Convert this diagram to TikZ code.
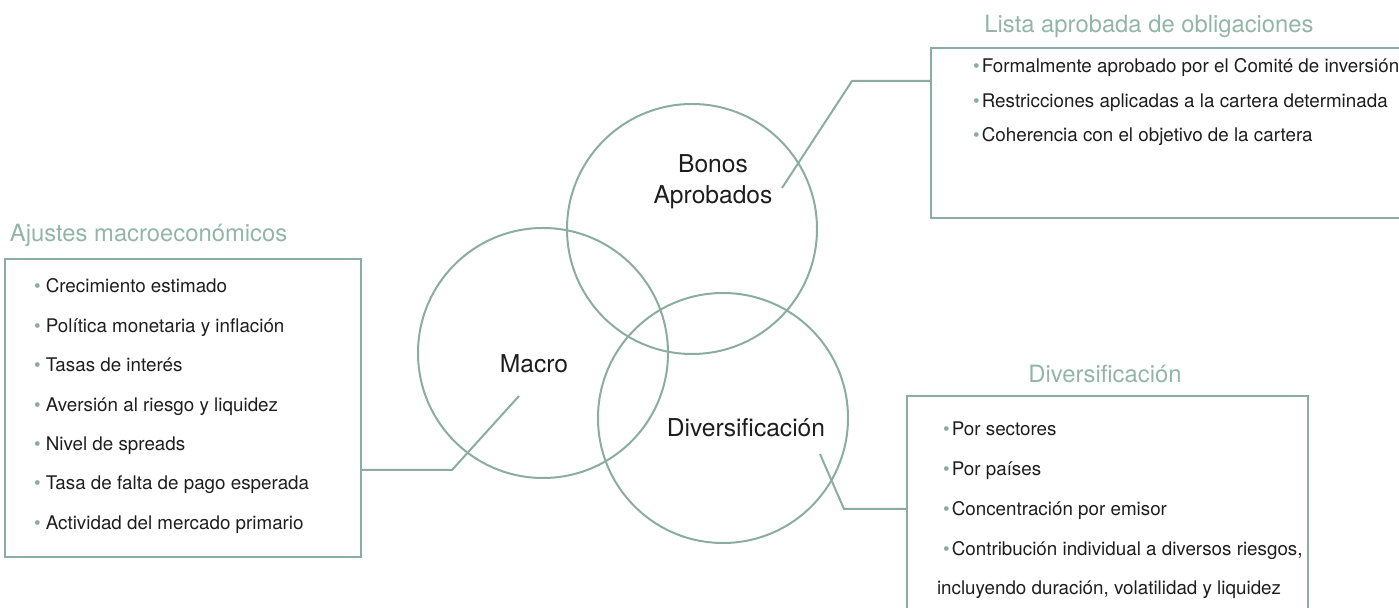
\documentclass[tikz,border=0pt]{standalone}
\usepackage{fontspec}
\setmainfont{TeX Gyre Heros}
\usepackage{xcolor}
\usepackage{tikz}
\usetikzlibrary{arrows}

\definecolor{vennline}{HTML}{8AADA0}
\definecolor{venntitle}{HTML}{93B5A8}
\definecolor{venntext}{HTML}{1E1E1E}
\newcommand{\vbul}[1][0.12em]{{\color{vennline}\textbullet}\hspace{#1}}

\begin{document}
\begin{tikzpicture}[x=0.5pt,y=-0.5pt,line width=1pt,draw=vennline]
  \tikzstyle{every node}=[inner sep=0pt,outer sep=0pt]
  \tikzstyle{venn}=[circle,draw=vennline,minimum size=125pt]
  \tikzstyle{vennlabel}=[font=\fontsize{12.3}{15.5}\selectfont,text=venntext,align=center,anchor=base]
  \tikzstyle{boxtitle}=[font=\fontsize{11.9}{14}\selectfont,text=venntitle]
  \tikzstyle{item}=[font=\fontsize{9.4}{11}\selectfont,text=venntext,anchor=base west]
  \tikzstyle{listbox}=[rectangle,draw=vennline,anchor=north west]

  \useasboundingbox (0,0) rectangle (1399,608);
  \clip (0,0) rectangle (1399,608);

  \node[venn] (bonos)  at (692,229) {};
  \node[venn] (macro)  at (543,353) {};
  \node[venn] (divers) at (723,418) {};

  \node[vennlabel] (bonoslabel)  at (713,204) {Bonos\\Aprobados};
  \node[vennlabel] (macrolabel)  at (534,373) {Macro};
  \node[vennlabel] (diverslabel) at (746,437) {Diversificación};

  \node[listbox,minimum width=178pt,minimum height=149pt]   (ajustesbox) at (5,259) {};
  \node[listbox,minimum width=244.5pt,minimum height=85pt]  (listabox)   at (931,48) {};
  \node[listbox,minimum width=200.5pt,minimum height=120pt] (diversbox)  at (907,396) {};

  \node[boxtitle,anchor=base west] (ajustestitle) at (10,242)   {Ajustes macroeconómicos};
  \node[boxtitle,anchor=base]      (listatitle)   at (1149,33)  {Lista aprobada de obligaciones};
  \node[boxtitle,anchor=base]      (diverstitle)  at (1105,383) {Diversificación};

  \foreach \txt [count=\i] in {Crecimiento estimado,Política monetaria y inflación,Tasas de interés,
      Aversión al riesgo y liquidez,Nivel de spreads,Tasa de falta de pago esperada,Actividad del mercado primario}
    \node[item] (ajuste\i) at (34,{293+39.4*(\i-1)}) {\vbul[0.28em]\txt};

  \foreach \txt [count=\i] in {Formalmente aprobado por el Comité de inversión,
      Restricciones aplicadas a la cartera determinada,Coherencia con el objetivo de la cartera}
    \node[item] (lista\i) at (973,{72.7+34.5*(\i-1)}) {\vbul\txt};

  \foreach \txt [count=\i] in {Por sectores,Por países,Concentración por emisor,
      {Contribución individual a diversos riesgos,}}
    \node[item] (divers\i) at (943,{436+39.7*(\i-1)}) {\vbul\txt};
  \node[item] (divers5) at (937,595) {incluyendo duración, volatilidad y liquidez};

  \coordinate (bonostip)    at (782,188);
  \coordinate (bonosknee)   at (852,81);
  \coordinate (macrotip)    at (519,396);
  \coordinate (macroknee)   at (452,470);
  \coordinate (diverstip)   at (820,454);
  \coordinate (diversknee)  at (844,509);

  \draw (bonostip)  -- (bonosknee)  -- (listabox.west |- bonosknee);
  \draw (macrotip)  -- (macroknee)  -- (ajustesbox.east |- macroknee);
  \draw (diverstip) -- (diversknee) -- (diversbox.west |- diversknee);
\end{tikzpicture}
\end{document}
